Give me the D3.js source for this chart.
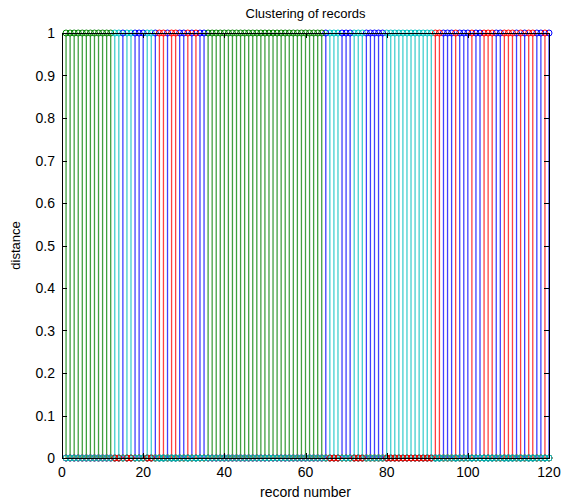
<!DOCTYPE html>
<html>
<head>
<meta charset="utf-8">
<title>Clustering of records</title>
<script src="https://d3js.org/d3.v7.min.js"></script>
<style>
  body { margin: 0; background: #fff; }
  text { font-family: "Liberation Sans", Arial, sans-serif; fill: #000; }
</style>
</head>
<body>
<div id="chart"></div>
<script>
// cluster membership of each record (1..120)
var blueRecords  = [15, 18, 19, 20, 23, 26, 29, 30, 32, 34, 35, 65, 69, 70, 71, 75, 76, 77, 78, 79,
                    94, 95, 96, 98, 99, 100, 102, 103, 107, 108, 112, 114, 117, 118, 120];
var greenRecords = [1, 2, 3, 4, 5, 6, 7, 8, 9, 10, 11, 12,
                    36, 37, 38, 39, 40, 41, 42, 43, 44, 45, 46, 47, 48, 49, 50, 51, 52, 53, 54,
                    55, 56, 57, 58, 59, 60, 61, 62, 63, 64];
var redRecords   = [24, 25, 27, 28, 31, 33, 92, 93, 97, 101, 104, 105, 106, 109, 110, 111, 113,
                    115, 116, 119];
var cyanRecords  = [13, 14, 16, 17, 21, 22, 66, 67, 68, 72, 73, 74,
                    80, 81, 82, 83, 84, 85, 86, 87, 88, 89, 90, 91];

var seriesColors = ["#0000ff", "#008000", "#ff0000", "#00bfbf"];
var xTicks = [0, 20, 40, 60, 80, 100, 120];
var yTicks = [0, 0.1, 0.2, 0.3, 0.4, 0.5, 0.6, 0.7, 0.8, 0.9, 1];

var W = 567, H = 504;
var margin = {left: 62, right: 549, top: 33, bottom: 458};

var svg = d3.select("#chart").append("svg")
  .attr("width", W).attr("height", H);

var x = d3.scaleLinear().domain([0, 120]).range([margin.left, margin.right]);
var y = d3.scaleLinear().domain([0, 1]).range([margin.bottom, margin.top]);

// build 0/1 series (stem plot of cluster membership)
var records = d3.range(1, 121);
var groups = [blueRecords, greenRecords, redRecords, cyanRecords];
var series = groups.map(function(g, i) {
  var set = new Set(g);
  return {
    color: seriesColors[i],
    values: records.map(function(r) { return {r: r, v: set.has(r) ? 1 : 0}; })
  };
});

// stems, series drawn in order so the last one sits on top
series.forEach(function(s, i) {
  var g = svg.append("g").attr("class", "series s" + i);
  g.selectAll("line.stem")
    .data(s.values.filter(function(d) { return d.v > 0; }))
    .enter().append("line")
      .attr("class", "stem")
      .attr("x1", function(d) { return x(d.r); })
      .attr("x2", function(d) { return x(d.r); })
      .attr("y1", y(0))
      .attr("y2", function(d) { return y(d.v); })
      .style("stroke", s.color)
      .style("stroke-opacity", 0.75)
      .style("stroke-width", "1.3px");
  g.selectAll("circle.mark")
    .data(s.values)
    .enter().append("circle")
      .attr("class", "mark")
      .attr("cx", function(d) { return x(d.r); })
      .attr("cy", function(d) { return y(d.v); })
      .attr("r", 3)
      .style("fill", "none")
      .style("stroke", s.color)
      .style("stroke-width", "1px");
});

// baseline
svg.append("line")
  .attr("x1", margin.left).attr("x2", margin.right)
  .attr("y1", y(0) + 0.5).attr("y2", y(0) + 0.5)
  .style("stroke", "#000");

// frame
svg.append("rect")
  .attr("x", margin.left + 0.5).attr("y", margin.top + 0.5)
  .attr("width", margin.right - margin.left).attr("height", margin.bottom - margin.top)
  .style("fill", "none").style("stroke", "#000");

// ticks (inward, all four sides)
var tl = 5;
svg.selectAll("path.xt").data(xTicks).enter().append("path")
  .attr("class", "xt")
  .attr("d", function(d) {
    var px = Math.round(x(d)) + 0.5;
    return "M" + px + "," + margin.bottom + "v" + (-tl) + "M" + px + "," + margin.top + "v" + tl;
  })
  .style("stroke", "#000");
svg.selectAll("path.yt").data(yTicks).enter().append("path")
  .attr("class", "yt")
  .attr("d", function(d) {
    var py = Math.round(y(d)) + 0.5;
    return "M" + margin.left + "," + py + "h" + tl + "M" + margin.right + "," + py + "h" + (-tl);
  })
  .style("stroke", "#000");

// tick labels
svg.selectAll("text.xl").data(xTicks).enter().append("text")
  .attr("class", "xl")
  .attr("x", function(d) { return x(d); })
  .attr("y", margin.bottom + 19)
  .attr("text-anchor", "middle")
  .attr("font-size", 14)
  .text(function(d) { return d; });
svg.selectAll("text.yl").data(yTicks).enter().append("text")
  .attr("class", "yl")
  .attr("x", margin.left - 7)
  .attr("y", function(d) { return y(d) + 5; })
  .attr("text-anchor", "end")
  .attr("font-size", 14)
  .text(function(d) { return d; });

// titles
svg.append("text")
  .attr("x", (margin.left + margin.right) / 2).attr("y", 18)
  .attr("text-anchor", "middle").attr("font-size", 13)
  .text("Clustering of records");
svg.append("text")
  .attr("x", (margin.left + margin.right) / 2).attr("y", 497)
  .attr("text-anchor", "middle").attr("font-size", 14)
  .text("record number");
svg.append("text")
  .attr("transform", "translate(20," + ((margin.top + margin.bottom) / 2) + ") rotate(-90)")
  .attr("text-anchor", "middle").attr("font-size", 13)
  .text("distance");
</script>
</body>
</html>
